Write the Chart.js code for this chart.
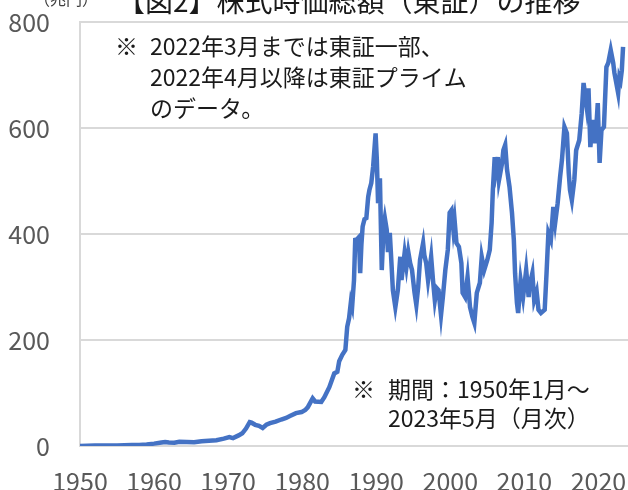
<!DOCTYPE html>
<html>
<head>
<meta charset="utf-8">
<script src="https://cdn.jsdelivr.net/npm/chart.js@4/dist/chart.umd.min.js"></script>
<style>
  html, body { margin: 0; padding: 0; background: #fff; }
  #wrap { width: 628px; height: 490px; }
</style>
</head>
<body>
<div id="wrap"><canvas id="capChart" width="628" height="490"></canvas></div>
<script>
// 東証 株式時価総額（兆円）
var months = [
  "1950-01","1951-01","1952-01","1953-01","1954-01","1955-01","1956-01","1957-01","1958-01","1959-01",
  "1960-01","1961-01","1961-07","1962-01","1962-10","1963-06","1964-06","1965-06","1966-06","1967-06",
  "1968-06","1969-06","1970-03","1970-09","1971-06","1971-12","1972-06","1972-12","1973-03","1973-09",
  "1974-03","1974-09","1975-03","1975-09","1976-06","1977-03","1977-11","1978-06","1979-03","1979-12",
  "1980-06","1980-10","1981-06","1981-10","1982-08","1983-01","1983-09","1984-05","1984-10","1985-01",
  "1985-06","1985-11","1986-02","1986-05","1986-08","1986-10","1987-01","1987-03","1987-06","1987-09",
  "1987-11","1988-01","1988-03","1988-06","1988-09","1988-12","1989-02","1989-05","1989-08","1989-12",
  "1990-02","1990-04","1990-07","1990-10","1991-01","1991-03","1991-06","1991-08","1991-11","1992-01",
  "1992-04","1992-08","1992-12","1993-04","1993-06","1993-11","1994-02","1994-05","1994-08","1994-11",
  "1995-03","1995-06","1995-09","1995-12","1996-05","1996-07","1996-10","1997-01","1997-06","1997-09",
  "1997-12","1998-03","1998-06","1998-10","1999-01","1999-05","1999-09","1999-12","2000-03","2000-06",
  "2000-08","2000-11","2001-03","2001-07","2001-09","2002-01","2002-05","2002-09","2003-01","2003-04",
  "2003-08","2004-01","2004-04","2004-08","2005-01","2005-05","2005-08","2005-10","2006-01","2006-03",
  "2006-06","2006-08","2007-01","2007-03","2007-06","2007-09","2008-01","2008-05","2008-08","2008-10",
  "2009-01","2009-03","2009-07","2009-11","2010-04","2010-08","2010-09","2011-02","2011-05","2011-09",
  "2011-12","2012-04","2012-10","2013-01","2013-04","2013-08","2013-12","2014-03","2014-07","2014-11",
  "2015-02","2015-06","2015-10","2016-01","2016-03","2016-06","2016-10","2017-01","2017-06","2017-10",
  "2018-01","2018-06","2018-09","2018-12","2019-04","2019-08","2019-12","2020-03","2020-06","2020-10",
  "2021-02","2021-05","2021-09","2022-01","2022-03","2022-06","2022-09","2022-11","2023-01","2023-03",
  "2023-05"
];
var marketCap = [
  0.2, 0.4, 0.8, 1.0, 0.9, 1.1, 1.6, 2.0, 2.0, 3.0,
  4.5, 6.5, 7.5, 6.5, 6, 8, 7.5, 7, 9, 10,
  11, 14, 17, 15, 20, 24, 33, 45, 44, 40,
  38, 34, 40, 43, 46, 50, 53, 57, 62, 64,
  68, 73, 90, 84, 83, 92, 111, 137, 140, 160,
  172, 181, 225, 241, 272, 263, 313, 389, 390, 394,
  326, 380, 414, 428, 430, 470, 483, 496, 527, 590,
  540, 458, 505, 332, 414, 430, 408, 366, 402, 360,
  294, 262, 294, 357, 313, 364, 338, 366, 345, 332,
  290, 266, 300, 351, 383, 360, 345, 313, 357, 313,
  275, 298, 294, 247, 281, 332, 370, 440, 445, 408,
  426, 383, 376, 345, 289, 281, 319, 262, 243, 232,
  289, 308, 357, 332, 351, 370, 421, 483, 545, 521,
  545, 502, 534, 558, 568, 521, 489, 440, 389, 326,
  270, 251, 313, 281, 332, 281, 300, 326, 275, 291,
  257, 251, 257, 326, 402, 389, 451, 421, 458, 508,
  540, 602, 590, 515, 483, 464, 502, 558, 577, 628,
  685, 640, 675, 564, 615, 571, 647, 534, 596, 602,
  715, 723, 747, 723, 704, 685, 666, 696, 690, 709,
  753
];
var xTicks = [1950, 1960, 1970, 1980, 1990, 2000, 2010, 2020];
var yTicks = [0, 200, 400, 600, 800];

var titleText = "【図2】株式時価総額（東証）の推移";
var unitText = "（兆円）";
var noteTop = ["2022年3月までは東証一部、", "2022年4月以降は東証プライム", "のデータ。"];
var noteBottom = ["期間：1950年1月～", "2023年5月（月次）"];

var FONT = '"Noto Sans CJK JP", "Noto Sans", sans-serif';

var points = months.map(function (m, i) {
  var p = m.split('-');
  return { x: +p[0] + (+p[1] - 1) / 12, y: marketCap[i] };
});

var notesPlugin = {
  id: 'notes',
  afterDraw: function (chart) {
    var c = chart.ctx;
    c.save();
    c.fillStyle = '#1a1a1a';
    c.textBaseline = 'middle';
    c.textAlign = 'left';
    c.font = '28px ' + FONT;
    c.fillText(titleText, 117, 1);
    c.fillStyle = '#404040';
    c.font = '16px ' + FONT;
    c.fillText(unitText, 34, -1);
    c.fillStyle = '#1a1a1a';
    c.font = '23px ' + FONT;
    c.fillText('※', 115, 46);
    noteTop.forEach(function (t, i) { c.fillText(t, 150, 46 + i * 31); });
    c.fillText('※', 352, 389);
    noteBottom.forEach(function (t, i) { c.fillText(t, 388, 389 + i * 29); });
    c.restore();
  }
};

var ctx = document.getElementById('capChart').getContext('2d');
var capChart = new Chart(ctx, {
  type: 'line',
  data: {
    datasets: [{
      label: '株式時価総額',
      data: points,
      borderColor: '#4472C4',
      borderWidth: 4.5,
      pointRadius: 0,
      tension: 0,
      fill: false
    }]
  },
  options: {
    responsive: false,
    animation: false,
    devicePixelRatio: 1,
    layout: { padding: { top: 22, right: 0, bottom: 0, left: 0 } },
    scales: {
      x: {
        type: 'linear',
        min: 1950,
        max: 2024,
        afterBuildTicks: function (axis) {
          axis.ticks = xTicks.map(function (v) { return { value: v }; });
        },
        afterFit: function (axis) {
          axis.height = 44;
          axis.paddingLeft = 0;
          axis.paddingRight = 0;
        },
        grid: { display: false, drawTicks: false },
        border: { display: false },
        ticks: {
          padding: 20,
          color: '#595959',
          font: { family: FONT, size: 25 },
          maxRotation: 0,
          callback: function (v) { return String(v); }
        }
      },
      y: {
        min: 0,
        max: 800,
        afterBuildTicks: function (axis) {
          axis.ticks = yTicks.map(function (v) { return { value: v }; });
        },
        afterFit: function (axis) {
          axis.width = 80;
          axis.paddingTop = 0;
          axis.paddingBottom = 0;
        },
        grid: { color: '#d9d9d9', lineWidth: 2, drawTicks: false },
        border: { display: true, color: '#d9d9d9', width: 2 },
        ticks: {
          padding: 30,
          color: '#595959',
          font: { family: FONT, size: 25 },
          callback: function (v) { return String(v); }
        }
      }
    },
    plugins: {
      legend: { display: false },
      tooltip: { enabled: false }
    }
  },
  plugins: [notesPlugin]
});
</script>
</body>
</html>
